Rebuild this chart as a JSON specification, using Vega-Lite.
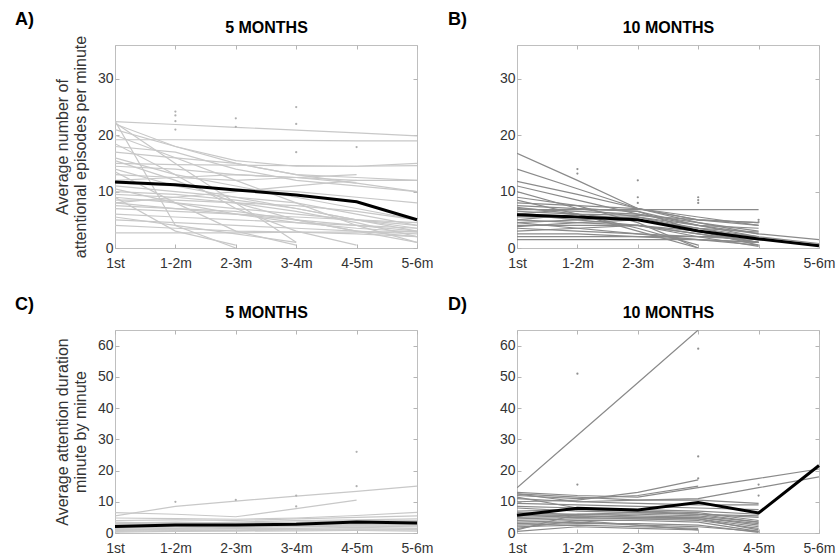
{
"$schema":"https://vega.github.io/schema/vega-lite/v6.json",
"padding":{"left":14,"top":10,"right":5,"bottom":5},
"background":"white",
"config":{"font":"Liberation Sans","view":{"stroke":"#bfbfbf","strokeWidth":1},
"axis":{"grid":false,"domain":false,"tickSize":-4,"tickColor":"#b5b5b5","labelFontSize":14,"labelColor":"#333333","labelFont":"Liberation Sans","titleFont":"Liberation Sans","titleFontSize":16,"titleFontWeight":"normal","titleColor":"#333333","labelFlush":false,"labelOverlap":false,"labelBound":false,"labelPadding":6,"titlePadding":8,"titleLineHeight":18},
"axisLeft":{"titlePadding":9},
"title":{"font":"Liberation Sans","fontSize":18,"fontWeight":"bold","color":"#000000"}},
"datasets":{
"A":[
{"s":1,"t":0,"v":22.4},{"s":1,"t":1,"v":21.9},{"s":1,"t":2,"v":21.4},{"s":1,"t":3,"v":20.9},{"s":1,"t":4,"v":20.4},{"s":1,"t":5,"v":19.9},
{"s":2,"t":0,"v":19.2},{"s":2,"t":1,"v":19.2},{"s":2,"t":2,"v":19.1},{"s":2,"t":3,"v":19.1},{"s":2,"t":4,"v":19.0},{"s":2,"t":5,"v":19.0},
{"s":3,"t":0,"v":22.0},{"s":3,"t":1,"v":18.0},{"s":3,"t":2,"v":15.0},{"s":3,"t":3,"v":13.0},{"s":3,"t":4,"v":12.5},{"s":3,"t":5,"v":12.0},
{"s":4,"t":0,"v":22.2},{"s":4,"t":1,"v":15.0},{"s":4,"t":2,"v":8.0},{"s":4,"t":3,"v":1.0},
{"s":5,"t":0,"v":22.5},{"s":5,"t":1,"v":4.0},{"s":5,"t":2,"v":0.0},
{"s":6,"t":0,"v":21.0},{"s":6,"t":1,"v":18.0},{"s":6,"t":2,"v":15.5},{"s":6,"t":3,"v":14.5},{"s":6,"t":4,"v":14.5},{"s":6,"t":5,"v":15.0},
{"s":7,"t":0,"v":18.0},{"s":7,"t":1,"v":17.0},{"s":7,"t":2,"v":14.0},{"s":7,"t":3,"v":12.0},{"s":7,"t":4,"v":11.0},{"s":7,"t":5,"v":10.0},
{"s":8,"t":0,"v":17.0},{"s":8,"t":1,"v":16.0},{"s":8,"t":2,"v":15.0},{"s":8,"t":3,"v":13.0},{"s":8,"t":4,"v":11.5},
{"s":9,"t":0,"v":15.0},{"s":9,"t":1,"v":14.8},{"s":9,"t":2,"v":14.7},{"s":9,"t":3,"v":14.6},{"s":9,"t":4,"v":14.5},{"s":9,"t":5,"v":14.6},
{"s":10,"t":0,"v":14.5},{"s":10,"t":1,"v":14.0},{"s":10,"t":2,"v":13.0},{"s":10,"t":3,"v":12.5},{"s":10,"t":4,"v":12.0},{"s":10,"t":5,"v":12.0},
{"s":11,"t":0,"v":16.0},{"s":11,"t":1,"v":13.0},{"s":11,"t":2,"v":11.0},{"s":11,"t":3,"v":9.0},{"s":11,"t":4,"v":7.0},{"s":11,"t":5,"v":5.0},
{"s":12,"t":0,"v":13.0},{"s":12,"t":1,"v":12.5},{"s":12,"t":2,"v":12.0},{"s":12,"t":3,"v":12.5},{"s":12,"t":4,"v":13.0},
{"s":13,"t":0,"v":14.0},{"s":13,"t":1,"v":11.0},{"s":13,"t":2,"v":9.0},{"s":13,"t":3,"v":7.0},{"s":13,"t":4,"v":5.0},{"s":13,"t":5,"v":3.5},
{"s":14,"t":0,"v":12.0},{"s":14,"t":1,"v":12.5},{"s":14,"t":2,"v":13.0},{"s":14,"t":3,"v":12.5},{"s":14,"t":4,"v":11.5},{"s":14,"t":5,"v":10.0},
{"s":15,"t":0,"v":11.0},{"s":15,"t":1,"v":10.0},{"s":15,"t":2,"v":9.0},{"s":15,"t":3,"v":8.0},{"s":15,"t":4,"v":6.0},{"s":15,"t":5,"v":4.0},
{"s":16,"t":0,"v":10.0},{"s":16,"t":1,"v":9.5},{"s":16,"t":2,"v":8.5},{"s":16,"t":3,"v":7.0},{"s":16,"t":4,"v":5.0},{"s":16,"t":5,"v":3.0},
{"s":17,"t":0,"v":9.5},{"s":17,"t":1,"v":9.0},{"s":17,"t":2,"v":8.0},{"s":17,"t":3,"v":6.5},{"s":17,"t":4,"v":4.5},{"s":17,"t":5,"v":2.0},
{"s":18,"t":0,"v":9.0},{"s":18,"t":1,"v":8.0},{"s":18,"t":2,"v":7.0},{"s":18,"t":3,"v":6.0},{"s":18,"t":4,"v":5.0},{"s":18,"t":5,"v":4.0},
{"s":19,"t":0,"v":8.5},{"s":19,"t":1,"v":8.5},{"s":19,"t":2,"v":8.0},{"s":19,"t":3,"v":7.5},{"s":19,"t":4,"v":6.5},{"s":19,"t":5,"v":5.0},
{"s":20,"t":0,"v":8.0},{"s":20,"t":1,"v":7.0},{"s":20,"t":2,"v":6.0},{"s":20,"t":3,"v":5.0},{"s":20,"t":4,"v":4.0},{"s":20,"t":5,"v":3.0},
{"s":21,"t":0,"v":7.5},{"s":21,"t":1,"v":7.0},{"s":21,"t":2,"v":6.5},{"s":21,"t":3,"v":5.0},{"s":21,"t":4,"v":3.0},{"s":21,"t":5,"v":1.0},
{"s":22,"t":0,"v":7.0},{"s":22,"t":1,"v":6.5},{"s":22,"t":2,"v":6.0},{"s":22,"t":3,"v":5.5},{"s":22,"t":4,"v":5.0},{"s":22,"t":5,"v":4.5},
{"s":23,"t":0,"v":6.0},{"s":23,"t":1,"v":5.5},{"s":23,"t":2,"v":5.0},{"s":23,"t":3,"v":4.5},{"s":23,"t":4,"v":4.0},{"s":23,"t":5,"v":3.5},
{"s":24,"t":0,"v":5.5},{"s":24,"t":1,"v":4.0},{"s":24,"t":2,"v":2.5},{"s":24,"t":3,"v":1.0},
{"s":25,"t":0,"v":5.0},{"s":25,"t":1,"v":4.5},{"s":25,"t":2,"v":4.0},{"s":25,"t":3,"v":3.5},{"s":25,"t":4,"v":3.0},{"s":25,"t":5,"v":2.5},
{"s":26,"t":0,"v":4.0},{"s":26,"t":1,"v":3.5},{"s":26,"t":2,"v":3.0},{"s":26,"t":3,"v":2.8},{"s":26,"t":4,"v":2.5},{"s":26,"t":5,"v":2.0},
{"s":27,"t":0,"v":2.7},{"s":27,"t":1,"v":2.7},{"s":27,"t":2,"v":2.7},{"s":27,"t":3,"v":2.8},{"s":27,"t":4,"v":2.8},{"s":27,"t":5,"v":2.9},
{"s":28,"t":0,"v":15.5},{"s":28,"t":1,"v":12.0},{"s":28,"t":2,"v":8.0},{"s":28,"t":3,"v":5.0},{"s":28,"t":4,"v":3.0},{"s":28,"t":5,"v":2.0},
{"s":29,"t":0,"v":20.0},{"s":29,"t":1,"v":16.0},{"s":29,"t":2,"v":12.0},{"s":29,"t":3,"v":8.0},{"s":29,"t":4,"v":4.0},{"s":29,"t":5,"v":1.0},
{"s":30,"t":0,"v":18.5},{"s":30,"t":1,"v":13.0},{"s":30,"t":2,"v":7.0},{"s":30,"t":3,"v":3.0},{"s":30,"t":4,"v":0.5},
{"s":31,"t":0,"v":11.5},{"s":31,"t":1,"v":11.0},{"s":31,"t":2,"v":10.5},{"s":31,"t":3,"v":10.0},{"s":31,"t":4,"v":9.0},{"s":31,"t":5,"v":8.0},
{"s":32,"t":0,"v":9.0},{"s":32,"t":1,"v":3.0},{"s":32,"t":2,"v":0.5},
{"s":33,"t":0,"v":13.5},{"s":33,"t":1,"v":8.0},{"s":33,"t":2,"v":3.0},{"s":33,"t":3,"v":0.5},
{"s":34,"t":0,"v":8.0},{"s":34,"t":1,"v":9.0},{"s":34,"t":2,"v":10.0},{"s":34,"t":3,"v":11.0},{"s":34,"t":4,"v":12.0},
{"s":35,"t":0,"v":10.5},{"s":35,"t":1,"v":8.0},{"s":35,"t":2,"v":6.0},{"s":35,"t":3,"v":4.5},{"s":35,"t":4,"v":3.5},{"s":35,"t":5,"v":2.8}
],
"mA":[{"t":0,"v":11.7},{"t":1,"v":11.2},{"t":2,"v":10.3},{"t":3,"v":9.4},{"t":4,"v":8.2},{"t":5,"v":5.0}],
"dA":[{"t":1,"v":24.2},{"t":1,"v":23.5},{"t":1,"v":22.5},{"t":1,"v":21.0},{"t":2,"v":23.0},{"t":2,"v":21.5},{"t":3,"v":25.0},{"t":3,"v":22.0},{"t":3,"v":17.0},{"t":4,"v":17.9}],
"B":[
{"s":1,"t":0,"v":16.8},{"s":1,"t":1,"v":12.0},{"s":1,"t":2,"v":7.0},{"s":1,"t":3,"v":4.5},{"s":1,"t":4,"v":2.5},{"s":1,"t":5,"v":1.5},
{"s":2,"t":0,"v":14.0},{"s":2,"t":1,"v":10.5},{"s":2,"t":2,"v":7.0},{"s":2,"t":3,"v":5.0},{"s":2,"t":4,"v":4.0},
{"s":3,"t":0,"v":11.8},{"s":3,"t":1,"v":9.5},{"s":3,"t":2,"v":7.0},{"s":3,"t":3,"v":5.0},{"s":3,"t":4,"v":4.5},
{"s":4,"t":0,"v":11.0},{"s":4,"t":1,"v":8.5},{"s":4,"t":2,"v":6.0},{"s":4,"t":3,"v":4.0},{"s":4,"t":4,"v":2.0},{"s":4,"t":5,"v":0.8},
{"s":5,"t":0,"v":10.0},{"s":5,"t":1,"v":7.0},{"s":5,"t":2,"v":5.5},{"s":5,"t":3,"v":3.0},{"s":5,"t":4,"v":1.0},
{"s":6,"t":0,"v":6.8},{"s":6,"t":1,"v":6.8},{"s":6,"t":2,"v":6.8},{"s":6,"t":3,"v":6.8},{"s":6,"t":4,"v":6.8},
{"s":7,"t":0,"v":8.0},{"s":7,"t":1,"v":7.5},{"s":7,"t":2,"v":7.0},{"s":7,"t":3,"v":5.5},{"s":7,"t":4,"v":4.0},
{"s":8,"t":0,"v":7.5},{"s":8,"t":1,"v":7.0},{"s":8,"t":2,"v":6.5},{"s":8,"t":3,"v":3.0},{"s":8,"t":4,"v":0.5},
{"s":9,"t":0,"v":7.0},{"s":9,"t":1,"v":6.5},{"s":9,"t":2,"v":6.0},{"s":9,"t":3,"v":4.5},{"s":9,"t":4,"v":3.0},
{"s":10,"t":0,"v":6.5},{"s":10,"t":1,"v":6.0},{"s":10,"t":2,"v":5.0},{"s":10,"t":3,"v":3.5},{"s":10,"t":4,"v":2.0},
{"s":11,"t":0,"v":6.0},{"s":11,"t":1,"v":5.0},{"s":11,"t":2,"v":4.0},{"s":11,"t":3,"v":2.0},{"s":11,"t":4,"v":0.3},
{"s":12,"t":0,"v":5.5},{"s":12,"t":1,"v":5.5},{"s":12,"t":2,"v":5.5},{"s":12,"t":3,"v":3.5},{"s":12,"t":4,"v":1.5},
{"s":13,"t":0,"v":5.0},{"s":13,"t":1,"v":4.5},{"s":13,"t":2,"v":4.0},{"s":13,"t":3,"v":2.5},{"s":13,"t":4,"v":1.0},
{"s":14,"t":0,"v":4.5},{"s":14,"t":1,"v":5.0},{"s":14,"t":2,"v":5.5},{"s":14,"t":3,"v":4.0},{"s":14,"t":4,"v":2.5},
{"s":15,"t":0,"v":4.0},{"s":15,"t":1,"v":4.0},{"s":15,"t":2,"v":4.0},{"s":15,"t":3,"v":3.0},{"s":15,"t":4,"v":2.0},
{"s":16,"t":0,"v":3.5},{"s":16,"t":1,"v":3.0},{"s":16,"t":2,"v":2.5},{"s":16,"t":3,"v":1.5},{"s":16,"t":4,"v":0.5},
{"s":17,"t":0,"v":3.0},{"s":17,"t":1,"v":3.5},{"s":17,"t":2,"v":4.0},{"s":17,"t":3,"v":2.5},{"s":17,"t":4,"v":1.0},
{"s":18,"t":0,"v":2.5},{"s":18,"t":1,"v":2.5},{"s":18,"t":2,"v":2.0},{"s":18,"t":3,"v":1.5},{"s":18,"t":4,"v":1.0},
{"s":19,"t":0,"v":2.0},{"s":19,"t":1,"v":2.0},{"s":19,"t":2,"v":2.0},{"s":19,"t":3,"v":2.0},{"s":19,"t":4,"v":2.0},
{"s":20,"t":0,"v":1.5},{"s":20,"t":1,"v":1.5},{"s":20,"t":2,"v":1.5},{"s":20,"t":3,"v":1.5},{"s":20,"t":4,"v":1.0},
{"s":21,"t":0,"v":8.5},{"s":21,"t":1,"v":6.0},{"s":21,"t":2,"v":3.5},{"s":21,"t":3,"v":0.5},
{"s":22,"t":0,"v":9.0},{"s":22,"t":1,"v":7.5},{"s":22,"t":2,"v":4.5},{"s":22,"t":3,"v":0.0},
{"s":23,"t":0,"v":6.0},{"s":23,"t":1,"v":7.0},{"s":23,"t":2,"v":6.5},{"s":23,"t":3,"v":4.0},{"s":23,"t":4,"v":3.5},
{"s":24,"t":0,"v":5.0},{"s":24,"t":1,"v":6.0},{"s":24,"t":2,"v":3.0},{"s":24,"t":3,"v":0.0},
{"s":25,"t":0,"v":4.5},{"s":25,"t":1,"v":3.5},{"s":25,"t":2,"v":2.5},{"s":25,"t":3,"v":2.0},{"s":25,"t":4,"v":1.5},
{"s":26,"t":0,"v":7.2},{"s":26,"t":1,"v":6.0},{"s":26,"t":2,"v":5.8},{"s":26,"t":3,"v":5.0},{"s":26,"t":4,"v":4.5},
{"s":27,"t":0,"v":3.8},{"s":27,"t":1,"v":4.5},{"s":27,"t":2,"v":5.0},{"s":27,"t":3,"v":3.5},{"s":27,"t":4,"v":2.8}
],
"mB":[{"t":0,"v":5.9},{"t":1,"v":5.5},{"t":2,"v":5.0},{"t":3,"v":3.0},{"t":4,"v":1.6},{"t":5,"v":0.4}],
"dB":[{"t":1,"v":14.0},{"t":1,"v":13.2},{"t":2,"v":12.0},{"t":2,"v":9.0},{"t":2,"v":8.0},{"t":3,"v":9.0},{"t":3,"v":8.5},{"t":3,"v":8.0},{"t":4,"v":5.0},{"t":4,"v":4.6}],
"C":[
{"s":1,"t":0,"v":5.5},{"s":1,"t":1,"v":8.5},{"s":1,"t":2,"v":10.2},{"s":1,"t":3,"v":11.8},{"s":1,"t":4,"v":13.3},{"s":1,"t":5,"v":15.0},
{"s":2,"t":0,"v":6.5},{"s":2,"t":1,"v":6.0},{"s":2,"t":2,"v":5.2},{"s":2,"t":3,"v":7.8},{"s":2,"t":4,"v":10.5},
{"s":3,"t":0,"v":4.8},{"s":3,"t":1,"v":4.6},{"s":3,"t":2,"v":4.4},{"s":3,"t":3,"v":4.8},{"s":3,"t":4,"v":5.6},{"s":3,"t":5,"v":6.6},
{"s":4,"t":0,"v":4.0},{"s":4,"t":1,"v":4.2},{"s":4,"t":2,"v":4.0},{"s":4,"t":3,"v":4.5},{"s":4,"t":4,"v":5.0},{"s":4,"t":5,"v":5.5},
{"s":5,"t":0,"v":3.5},{"s":5,"t":1,"v":3.0},{"s":5,"t":2,"v":3.5},{"s":5,"t":3,"v":4.0},{"s":5,"t":4,"v":4.2},{"s":5,"t":5,"v":4.5},
{"s":6,"t":0,"v":3.0},{"s":6,"t":1,"v":3.2},{"s":6,"t":2,"v":3.0},{"s":6,"t":3,"v":3.3},{"s":6,"t":4,"v":3.8},{"s":6,"t":5,"v":4.0},
{"s":7,"t":0,"v":2.5},{"s":7,"t":1,"v":2.8},{"s":7,"t":2,"v":2.7},{"s":7,"t":3,"v":3.0},{"s":7,"t":4,"v":3.5},{"s":7,"t":5,"v":3.3},
{"s":8,"t":0,"v":2.0},{"s":8,"t":1,"v":2.3},{"s":8,"t":2,"v":2.5},{"s":8,"t":3,"v":2.8},{"s":8,"t":4,"v":3.0},{"s":8,"t":5,"v":2.8},
{"s":9,"t":0,"v":1.5},{"s":9,"t":1,"v":2.0},{"s":9,"t":2,"v":2.2},{"s":9,"t":3,"v":2.5},{"s":9,"t":4,"v":2.5},{"s":9,"t":5,"v":2.5},
{"s":10,"t":0,"v":1.2},{"s":10,"t":1,"v":1.5},{"s":10,"t":2,"v":1.8},{"s":10,"t":3,"v":2.0},{"s":10,"t":4,"v":2.2},{"s":10,"t":5,"v":2.0},
{"s":11,"t":0,"v":1.0},{"s":11,"t":1,"v":1.2},{"s":11,"t":2,"v":1.5},{"s":11,"t":3,"v":1.5},{"s":11,"t":4,"v":1.8},{"s":11,"t":5,"v":1.5},
{"s":12,"t":0,"v":0.8},{"s":12,"t":1,"v":1.0},{"s":12,"t":2,"v":1.0},{"s":12,"t":3,"v":1.2},{"s":12,"t":4,"v":1.3},{"s":12,"t":5,"v":1.2},
{"s":13,"t":0,"v":0.5},{"s":13,"t":1,"v":0.8},{"s":13,"t":2,"v":0.8},{"s":13,"t":3,"v":1.0},{"s":13,"t":4,"v":1.0},{"s":13,"t":5,"v":1.0},
{"s":14,"t":0,"v":2.2},{"s":14,"t":1,"v":2.5},{"s":14,"t":2,"v":2.0},{"s":14,"t":3,"v":2.5},{"s":14,"t":4,"v":3.2},{"s":14,"t":5,"v":3.0},
{"s":15,"t":0,"v":3.2},{"s":15,"t":1,"v":3.5},{"s":15,"t":2,"v":3.2},{"s":15,"t":3,"v":3.5},{"s":15,"t":4,"v":4.0},{"s":15,"t":5,"v":3.8},
{"s":16,"t":0,"v":1.8},{"s":16,"t":1,"v":1.6},{"s":16,"t":2,"v":2.0},{"s":16,"t":3,"v":2.2},{"s":16,"t":4,"v":2.8},{"s":16,"t":5,"v":2.6},
{"s":17,"t":0,"v":2.8},{"s":17,"t":1,"v":3.0},{"s":17,"t":2,"v":2.8},{"s":17,"t":3,"v":3.0},{"s":17,"t":4,"v":3.2},{"s":17,"t":5,"v":3.5},
{"s":18,"t":0,"v":0.3},{"s":18,"t":1,"v":0.5},{"s":18,"t":2,"v":0.6},{"s":18,"t":3,"v":0.7},{"s":18,"t":4,"v":0.8},{"s":18,"t":5,"v":0.6}
],
"mC":[{"t":0,"v":2.1},{"t":1,"v":2.6},{"t":2,"v":2.6},{"t":3,"v":2.8},{"t":4,"v":3.5},{"t":5,"v":3.2}],
"dC":[{"t":1,"v":10.0},{"t":2,"v":10.6},{"t":3,"v":12.0},{"t":4,"v":26.0},{"t":4,"v":15.0},{"t":3,"v":8.5}],
"D":[
{"s":1,"t":0,"v":14.5},{"s":1,"t":1,"v":31.3},{"s":1,"t":2,"v":48.1},{"s":1,"t":3,"v":65.0},
{"s":2,"t":0,"v":13.0},{"s":2,"t":1,"v":12.0},{"s":2,"t":2,"v":11.5},{"s":2,"t":3,"v":14.5},{"s":2,"t":4,"v":17.5},{"s":2,"t":5,"v":20.5},
{"s":3,"t":0,"v":12.5},{"s":3,"t":1,"v":11.5},{"s":3,"t":2,"v":10.5},{"s":3,"t":3,"v":11.0},{"s":3,"t":4,"v":14.5},{"s":3,"t":5,"v":18.0},
{"s":4,"t":0,"v":10.0},{"s":4,"t":1,"v":10.5},{"s":4,"t":2,"v":13.0},{"s":4,"t":3,"v":17.0},
{"s":5,"t":0,"v":12.0},{"s":5,"t":1,"v":11.0},{"s":5,"t":2,"v":12.0},{"s":5,"t":3,"v":15.0},
{"s":6,"t":0,"v":11.0},{"s":6,"t":1,"v":10.0},{"s":6,"t":2,"v":9.5},{"s":6,"t":3,"v":9.0},{"s":6,"t":4,"v":9.0},
{"s":7,"t":0,"v":9.5},{"s":7,"t":1,"v":9.0},{"s":7,"t":2,"v":8.5},{"s":7,"t":3,"v":8.0},{"s":7,"t":4,"v":7.5},
{"s":8,"t":0,"v":8.5},{"s":8,"t":1,"v":8.0},{"s":8,"t":2,"v":7.5},{"s":8,"t":3,"v":7.0},{"s":8,"t":4,"v":6.0},
{"s":9,"t":0,"v":8.0},{"s":9,"t":1,"v":7.0},{"s":9,"t":2,"v":6.5},{"s":9,"t":3,"v":6.0},{"s":9,"t":4,"v":5.0},
{"s":10,"t":0,"v":7.0},{"s":10,"t":1,"v":7.5},{"s":10,"t":2,"v":7.0},{"s":10,"t":3,"v":6.5},{"s":10,"t":4,"v":4.0},
{"s":11,"t":0,"v":6.5},{"s":11,"t":1,"v":6.0},{"s":11,"t":2,"v":6.0},{"s":11,"t":3,"v":5.5},{"s":11,"t":4,"v":3.5},
{"s":12,"t":0,"v":6.0},{"s":12,"t":1,"v":5.5},{"s":12,"t":2,"v":5.0},{"s":12,"t":3,"v":5.0},{"s":12,"t":4,"v":3.0},
{"s":13,"t":0,"v":5.5},{"s":13,"t":1,"v":6.0},{"s":13,"t":2,"v":5.5},{"s":13,"t":3,"v":5.0},{"s":13,"t":4,"v":2.5},
{"s":14,"t":0,"v":5.0},{"s":14,"t":1,"v":5.5},{"s":14,"t":2,"v":5.0},{"s":14,"t":3,"v":4.5},{"s":14,"t":4,"v":2.0},
{"s":15,"t":0,"v":4.5},{"s":15,"t":1,"v":5.0},{"s":15,"t":2,"v":4.5},{"s":15,"t":3,"v":4.0},{"s":15,"t":4,"v":1.5},
{"s":16,"t":0,"v":4.0},{"s":16,"t":1,"v":4.5},{"s":16,"t":2,"v":4.5},{"s":16,"t":3,"v":4.5},{"s":16,"t":4,"v":1.0},
{"s":17,"t":0,"v":3.5},{"s":17,"t":1,"v":4.0},{"s":17,"t":2,"v":4.0},{"s":17,"t":3,"v":3.5},{"s":17,"t":4,"v":0.5},
{"s":18,"t":0,"v":3.0},{"s":18,"t":1,"v":3.5},{"s":18,"t":2,"v":2.5},{"s":18,"t":3,"v":2.0},{"s":18,"t":4,"v":0.5},
{"s":19,"t":0,"v":2.5},{"s":19,"t":1,"v":3.0},{"s":19,"t":2,"v":3.0},{"s":19,"t":3,"v":2.5},{"s":19,"t":4,"v":0.2},
{"s":20,"t":0,"v":2.0},{"s":20,"t":1,"v":2.5},{"s":20,"t":2,"v":2.0},{"s":20,"t":3,"v":1.5},
{"s":21,"t":0,"v":1.5},{"s":21,"t":1,"v":4.0},{"s":21,"t":2,"v":2.5},{"s":21,"t":3,"v":1.0},
{"s":22,"t":0,"v":0.5},{"s":22,"t":1,"v":2.0},{"s":22,"t":2,"v":1.5},{"s":22,"t":3,"v":1.0},
{"s":23,"t":0,"v":11.5},{"s":23,"t":1,"v":8.0},{"s":23,"t":2,"v":7.0},{"s":23,"t":3,"v":6.0},{"s":23,"t":4,"v":5.5},
{"s":24,"t":0,"v":1.0},{"s":24,"t":1,"v":6.0},{"s":24,"t":2,"v":6.5},{"s":24,"t":3,"v":6.0},{"s":24,"t":4,"v":3.5},
{"s":25,"t":0,"v":12.5},{"s":25,"t":1,"v":10.0},{"s":25,"t":2,"v":10.5},{"s":25,"t":3,"v":10.5},{"s":25,"t":4,"v":9.5}
],
"mD":[{"t":0,"v":5.7},{"t":1,"v":7.9},{"t":2,"v":7.4},{"t":3,"v":9.8},{"t":4,"v":6.4},{"t":5,"v":21.6}],
"dD":[{"t":1,"v":51.0},{"t":1,"v":15.5},{"t":3,"v":59.0},{"t":3,"v":24.5},{"t":4,"v":12.0},{"t":4,"v":15.5},{"t":3,"v":17.5}]
},
"columns":2,
"spacing":{"row":82,"column":100},
"bounds":"flush",
"concat":[
{"width":302,"height":203,
"title":{"text":"A)","anchor":"start","frame":"group","dx":-100,"offset":-9},
"layer":[
{"data":{"name":"A"},"mark":{"type":"line","color":"#c8c8c8","strokeWidth":1.2,"clip":true},
"encoding":{"x":{"field":"t","type":"quantitative","scale":{"domain":[0,5],"nice":false,"zero":false},"axis":{"values":[0,1,2,3,4,5],"labelExpr":"['1st','1-2m','2-3m','3-4m','4-5m','5-6m'][datum.value]","title":null,"labelPadding":12}},
"y":{"field":"v","type":"quantitative","scale":{"domain":[0,36],"nice":false},"axis":{"values":[0,10,20,30],"title":["Average number of","attentional episodes per minute"]}},
"detail":{"field":"s","type":"nominal"}}},
{"data":{"name":"dA"},"mark":{"type":"point","filled":true,"size":5,"color":"#b0b0b0","opacity":1},
"encoding":{"x":{"field":"t","type":"quantitative","axis":null},"y":{"field":"v","type":"quantitative","axis":null}}},
{"data":{"name":"mA"},"mark":{"type":"line","color":"#000000","strokeWidth":3},
"encoding":{"x":{"field":"t","type":"quantitative","axis":{"orient":"top","values":[0,1,2,3,4,5],"labels":false,"title":"5 MONTHS","titleFontWeight":"bold","titleFontSize":16,"titleColor":"#000000","titlePadding":9}},
"y":{"field":"v","type":"quantitative","axis":{"orient":"right","values":[0,10,20,30],"labels":false,"title":null}}}}
],
"resolve":{"axis":{"x":"independent","y":"independent"}}},
{"width":302,"height":203,
"title":{"text":"B)","anchor":"start","frame":"group","dx":-69,"offset":-9},
"layer":[
{"data":{"name":"B"},"mark":{"type":"line","color":"#8a8a8a","strokeWidth":1.2,"clip":true},
"encoding":{"x":{"field":"t","type":"quantitative","scale":{"domain":[0,5],"nice":false,"zero":false},"axis":{"values":[0,1,2,3,4,5],"labelExpr":"['1st','1-2m','2-3m','3-4m','4-5m','5-6m'][datum.value]","title":null,"labelPadding":12}},
"y":{"field":"v","type":"quantitative","scale":{"domain":[0,36],"nice":false},"axis":{"values":[0,10,20,30],"title":null}},
"detail":{"field":"s","type":"nominal"}}},
{"data":{"name":"dB"},"mark":{"type":"point","filled":true,"size":5,"color":"#909090","opacity":1},
"encoding":{"x":{"field":"t","type":"quantitative","axis":null},"y":{"field":"v","type":"quantitative","axis":null}}},
{"data":{"name":"mB"},"mark":{"type":"line","color":"#000000","strokeWidth":3},
"encoding":{"x":{"field":"t","type":"quantitative","axis":{"orient":"top","values":[0,1,2,3,4,5],"labels":false,"title":"10 MONTHS","titleFontWeight":"bold","titleFontSize":16,"titleColor":"#000000","titlePadding":9}},
"y":{"field":"v","type":"quantitative","axis":{"orient":"right","values":[0,10,20,30],"labels":false,"title":null}}}}
],
"resolve":{"axis":{"x":"independent","y":"independent"}}},
{"width":302,"height":203,
"title":{"text":"C)","anchor":"start","frame":"group","dx":-100,"offset":-9},
"layer":[
{"data":{"name":"C"},"mark":{"type":"line","color":"#c8c8c8","strokeWidth":1.2,"clip":true},
"encoding":{"x":{"field":"t","type":"quantitative","scale":{"domain":[0,5],"nice":false,"zero":false},"axis":{"values":[0,1,2,3,4,5],"labelExpr":"['1st','1-2m','2-3m','3-4m','4-5m','5-6m'][datum.value]","title":null,"labelPadding":12}},
"y":{"field":"v","type":"quantitative","scale":{"domain":[0,65],"nice":false},"axis":{"values":[0,10,20,30,40,50,60],"title":["Average attention duration","minute by minute"]}},
"detail":{"field":"s","type":"nominal"}}},
{"data":{"name":"dC"},"mark":{"type":"point","filled":true,"size":5,"color":"#b0b0b0","opacity":1},
"encoding":{"x":{"field":"t","type":"quantitative","axis":null},"y":{"field":"v","type":"quantitative","axis":null}}},
{"data":{"name":"mC"},"mark":{"type":"line","color":"#000000","strokeWidth":3},
"encoding":{"x":{"field":"t","type":"quantitative","axis":{"orient":"top","values":[0,1,2,3,4,5],"labels":false,"title":"5 MONTHS","titleFontWeight":"bold","titleFontSize":16,"titleColor":"#000000","titlePadding":9}},
"y":{"field":"v","type":"quantitative","axis":{"orient":"right","values":[0,10,20,30,40,50,60],"labels":false,"title":null}}}}
],
"resolve":{"axis":{"x":"independent","y":"independent"}}},
{"width":302,"height":203,
"title":{"text":"D)","anchor":"start","frame":"group","dx":-69,"offset":-9},
"layer":[
{"data":{"name":"D"},"mark":{"type":"line","color":"#8a8a8a","strokeWidth":1.2,"clip":true},
"encoding":{"x":{"field":"t","type":"quantitative","scale":{"domain":[0,5],"nice":false,"zero":false},"axis":{"values":[0,1,2,3,4,5],"labelExpr":"['1st','1-2m','2-3m','3-4m','4-5m','5-6m'][datum.value]","title":null,"labelPadding":12}},
"y":{"field":"v","type":"quantitative","scale":{"domain":[0,65],"nice":false},"axis":{"values":[0,10,20,30,40,50,60],"title":null}},
"detail":{"field":"s","type":"nominal"}}},
{"data":{"name":"dD"},"mark":{"type":"point","filled":true,"size":5,"color":"#909090","opacity":1},
"encoding":{"x":{"field":"t","type":"quantitative","axis":null},"y":{"field":"v","type":"quantitative","axis":null}}},
{"data":{"name":"mD"},"mark":{"type":"line","color":"#000000","strokeWidth":3},
"encoding":{"x":{"field":"t","type":"quantitative","axis":{"orient":"top","values":[0,1,2,3,4,5],"labels":false,"title":"10 MONTHS","titleFontWeight":"bold","titleFontSize":16,"titleColor":"#000000","titlePadding":9}},
"y":{"field":"v","type":"quantitative","axis":{"orient":"right","values":[0,10,20,30,40,50,60],"labels":false,"title":null}}}}
],
"resolve":{"axis":{"x":"independent","y":"independent"}}}
]
}
